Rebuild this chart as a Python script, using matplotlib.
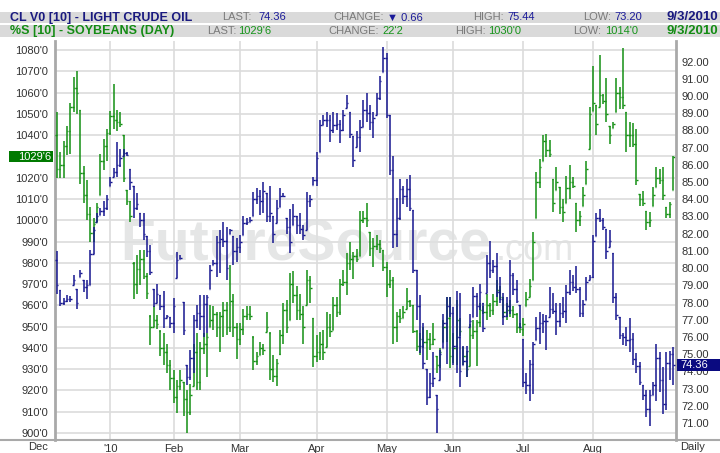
import numpy as np
import matplotlib
matplotlib.use("Agg")
import matplotlib.pyplot as plt
from matplotlib.patches import Rectangle
from matplotlib.transforms import blended_transform_factory

plt.rcParams['font.family'] = ['Liberation Sans', 'DejaVu Sans']

# ---------------------------------------------------------------- data
# Soybeans (%S, daily) high / low / open / close, cents per bushel
soy_high = [1051, 1032, 1037, 1044.5, 1055, 1067.5, 1070, 1052, 1025.5, 1019,
            1006, 1001, 1008, 1031, 1038, 1043, 1051.5, 1064, 1052, 1051,
            1040, 1014, 1009, 980.5, 983.5, 986, 986, 975, 955.5, 959.5,
            955.5, 948.5, 947, 942, 934.5, 929.5, 925, 929.5, 924, 920,
            923, 942, 947, 943, 947, 947, 960, 959.5, 957, 957,
            961.5, 961.5, 979, 965.5, 951.5, 951.5, 958.5, 959.5, 959.5, 945.5,
            938, 943, 942, 957, 947.5, 936.5, 935, 948.5, 961, 962.5,
            975, 976, 969, 965.5, 959.5, 976.5, 974, 954, 946, 947.5,
            948.5, 957, 956, 964, 964, 972.5, 976.5, 984.5, 990, 985,
            986.5, 1004.5, 1004.5, 1008, 994.5, 991.5, 993, 990.5, 986, 980.5,
            976.5, 973.5, 957, 958.5, 959.5, 968, 962.5, 960, 948.5, 947,
            950, 948.5, 947, 951.5, 936, 940, 953, 964, 964, 947,
            962.5, 954, 940.5, 938.5, 951, 953, 953, 961, 959.5, 965.5,
            961, 965.5, 972, 969, 964, 961, 962.5, 959.5, 956.5, 951.5,
            954, 966.5, 972.5, 994.5, 1022.5, 1029, 1040, 1040.5, 1037.5, 1019.5,
            1025, 1015.5, 1010, 1021, 1026, 1020.5, 1008, 1004.5, 1015.5, 1028,
            1053, 1072.5, 1054, 1077.5, 1059.5, 1067, 1044.5, 1046, 1067, 1062.5,
            1081, 1051, 1046, 1045.5, 1043, 1012.5, 1013.5, 1004.5, 1004, 1015.5,
            1025, 1024, 1025, 1006, 1008.5, 1030]
soy_low = [1020, 1020, 1020, 1030.5, 1031, 1051, 1050, 1017, 1008, 1000,
           990, 990, 999, 1012, 1023.5, 1028, 1040, 1043, 1042, 1044,
           1018, 1007, 999, 963, 965.5, 969.5, 972.5, 963, 941.5, 950,
           949, 936, 932, 928, 920, 914, 909.5, 920, 908, 900,
           908.5, 922, 920, 920, 937, 926.5, 950, 948.5, 945, 938,
           945, 946, 947.5, 945, 935, 941.5, 946, 953, 953, 929.5,
           932, 936.5, 936.5, 947.5, 925, 924, 922, 936.5, 942, 947,
           953, 961, 953, 953, 942, 960, 961, 931, 933.5, 934.5,
           934.5, 940.5, 945, 948.5, 954.5, 955.5, 969, 965, 976.5, 972.5,
           980.5, 983, 998.5, 997, 983, 978, 986, 984.5, 976, 964,
           968, 942, 943, 951.5, 954, 958.5, 959, 947, 938.5, 936.5,
           940, 934.5, 939, 941.5, 928, 930.5, 943, 943, 930.5, 933,
           932, 945.5, 932, 926.5, 931.5, 944, 931.5, 950, 956, 953,
           954.5, 955.5, 959.5, 962.5, 954, 953, 954.5, 954, 947, 947,
           945.5, 959.5, 964, 972, 1001, 1015, 1028, 1029.5, 1029.5, 1004,
           1014, 1003, 999, 1008, 1010, 1015, 994.5, 997.5, 1006.5, 1017,
           1033.5, 1051.5, 1040, 1053, 1054.5, 1046, 1036, 1043.5, 1051, 1052.5,
           1052.5, 1032, 1034.5, 1034.5, 1016.5, 1006.5, 1006.5, 995.5, 997, 1006.5,
           1015.5, 1017, 1009.5, 1001, 1001, 1014]
soy_open = [1040, 1024, 1026, 1035, 1042, 1053, 1062, 1052, 1022, 1012,
            1003, 994, 999, 1012, 1028, 1035, 1041, 1049, 1047, 1046,
            1040, 1014, 1009, 980, 970, 977, 982, 974, 955, 950,
            953, 948, 940, 938, 932, 926, 917, 922, 924, 916,
            910, 922, 938, 924, 940, 942, 950, 953, 956, 950,
            955, 958, 950, 962, 950, 944, 949, 955, 956, 945,
            934, 936.5, 940, 947.5, 947, 930, 927, 937, 946, 958,
            953, 970, 965, 958, 956, 960, 972, 954, 936, 938,
            942, 940.5, 950, 948.5, 960, 957, 970, 971, 980, 982,
            983, 983, 1000, 1001, 994.5, 987, 988, 989, 986, 978,
            970, 972, 950, 955, 954, 958.5, 962, 960, 948, 941,
            944, 943, 944, 942, 936, 932, 943, 950, 954, 936,
            940, 953, 940.5, 936, 931.5, 946, 948, 952, 958, 957,
            960, 958, 962, 967, 964, 957, 958, 958, 956, 950,
            949, 959.5, 964, 972, 1001, 1018, 1028, 1037, 1033, 1019.5,
            1014, 1015.5, 1006, 1008, 1015, 1018, 1008, 1000, 1006.5, 1017,
            1033.5, 1051.5, 1054, 1053, 1059, 1056, 1044.5, 1043.5, 1051, 1060,
            1058, 1051, 1040, 1040, 1036, 1012.5, 1010, 1004.5, 999, 1006.5,
            1015.5, 1020, 1019, 1006, 1003, 1014]
soy_close = [1024, 1026, 1035, 1042, 1053, 1062, 1060, 1022, 1012, 1003,
             994, 998, 1006, 1028, 1035, 1041, 1049, 1047, 1046, 1045,
             1020, 1009, 1002, 970, 977, 982, 974, 966, 950, 953,
             951, 940, 938, 932, 926, 917, 922, 925, 916, 910,
             918, 938, 924, 940, 942, 945, 953, 956, 950, 955,
             958, 950, 962, 950, 944, 949, 955, 956, 955, 934,
             936, 940, 939, 950, 930, 927, 933, 946, 958, 950,
             970, 965, 958, 956, 950, 972, 968, 936, 938, 942,
             938, 950, 948, 960, 957, 970, 971, 980, 982, 983,
             982, 1000, 1001, 1000, 987, 988, 989, 987, 978, 970,
             972, 950, 955, 954, 957, 962, 960, 948, 941, 944,
             943, 944, 942, 944, 932, 938, 950, 954, 936, 940,
             953, 948, 936, 930, 946, 948, 952, 958, 957, 960,
             958, 962, 967, 964, 957, 958, 958, 956, 950, 949,
             951, 963, 969, 990, 1018, 1025, 1037, 1033, 1031, 1008,
             1018, 1006, 1004, 1015, 1018, 1016, 1000, 1002, 1012, 1024,
             1050, 1055, 1045, 1059, 1056, 1050, 1040, 1045, 1060, 1058,
             1054, 1040, 1040, 1036, 1019, 1010, 1008, 999, 1000, 1012,
             1020, 1019, 1012, 1003, 1007.5, 1029.75]

# Light crude oil (CL V0) high / low / open / close, dollars per barrel
oil_high = [81.0, 78.7, 78.25, 78.45, 78.4, 79.6, 78.8, 79.9, 79.3, 79.3,
            81.05, 82.4, 83.2, 83.5, 83.9, 84.25, 85.3, 85.8, 87.35, 86.95,
            86.95, 86.75, 85.75, 84.75, 84.35, 83.2, 83.2, 81.85, 81.35, 78.8,
            79.1, 78.45, 78.65, 77.3, 77.15, 78.25, 80.95, 80.75, 78.05, 74.35,
            75.25, 77.25, 77.85, 78.45, 78.45, 78.45, 80.2, 80.45, 81.85, 82.2,
            82.7, 82.4, 82.3, 81.85, 81.75, 81.9, 83.0, 82.9, 82.95, 84.45,
            84.65, 84.55, 85.0, 84.35, 84.75, 83.0, 83.95, 84.65, 84.35, 82.9,
            83.45, 83.75, 83.0, 83.2, 82.5, 84.45, 84.25, 85.3, 86.75, 88.6,
            88.9, 89.1, 88.9, 89.1, 89.0, 88.6, 89.2, 90.05, 89.1, 87.65,
            87.95, 88.6, 89.75, 90.15, 89.5, 89.1, 90.15, 91.15, 92.85, 92.5,
            88.9, 86.5, 84.05, 85.2, 84.75, 85.2, 85.4, 83.4, 79.9, 78.45,
            76.8, 74.15, 73.9, 75.15, 72.6, 75.25, 77.35, 78.35, 78.35, 77.75,
            78.65, 78.55, 75.45, 75.45, 77.35, 78.9, 78.55, 79.1, 77.95, 80.75,
            81.55, 80.45, 80.85, 79.5, 78.55, 78.35, 80.45, 79.7, 79.3, 77.85,
            75.9, 73.9, 74.65, 75.7, 77.15, 77.45, 77.35, 77.25, 78.9, 78.55,
            77.95, 77.95, 78.35, 79.0, 79.9, 79.6, 80.1, 78.9, 78.15, 79.5,
            79.6, 81.9, 83.2, 83.45, 82.9, 82.3, 82.2, 80.85, 78.55, 77.15,
            76.2, 76.6, 77.1, 76.2, 75.05, 74.55, 73.2, 72.9, 72.9, 73.4,
            75.6, 75.15, 74.25, 75.15, 75.2, 75.44]
oil_low = [78.5, 77.8, 77.85, 78.05, 78.05, 79.0, 77.65, 79.5, 78.6, 78.2,
           79.0, 80.8, 82.7, 83.1, 83.0, 83.4, 84.8, 85.3, 85.3, 85.9,
           86.5, 86.5, 84.55, 82.9, 83.4, 82.4, 81.65, 80.65, 79.6, 77.75,
           77.95, 77.55, 76.5, 77.1, 76.5, 76.2, 79.4, 80.55, 76.1, 73.2,
           73.5, 73.9, 76.5, 76.4, 76.0, 76.2, 78.8, 80.2, 79.5, 79.7,
           81.25, 79.3, 82.0, 80.2, 80.35, 80.85, 81.9, 82.5, 82.7, 83.0,
           83.75, 83.1, 83.2, 82.7, 82.7, 81.45, 82.6, 83.55, 84.15, 82.0,
           80.85, 82.5, 82.0, 82.0, 81.65, 82.2, 83.55, 84.85, 84.75, 86.75,
           88.3, 88.2, 87.35, 87.85, 88.05, 87.25, 87.95, 89.3, 87.55, 85.9,
           87.05, 86.75, 88.2, 88.5, 88.05, 87.55, 88.9, 89.75, 91.4, 88.7,
           85.4, 81.15, 81.25, 82.8, 83.75, 83.55, 83.3, 79.7, 77.0, 75.05,
           74.15, 72.05, 72.45, 73.1, 70.4, 73.5, 75.35, 74.45, 77.15, 74.35,
           73.9, 73.1, 74.35, 73.7, 76.6, 77.15, 77.15, 77.55, 76.3, 78.55,
           79.4, 79.7, 78.35, 77.95, 76.7, 77.15, 77.35, 78.45, 77.95, 76.5,
           73.1, 72.7, 72.25, 72.7, 75.8, 75.6, 76.2, 75.25, 77.15, 77.35,
           76.1, 76.6, 77.1, 76.8, 78.45, 78.65, 78.55, 77.15, 77.15, 78.15,
           79.3, 79.4, 81.85, 82.7, 82.2, 80.55, 81.25, 77.95, 77.0, 75.9,
           75.55, 75.45, 75.15, 74.35, 73.9, 73.2, 72.35, 71.35, 70.8, 72.6,
           72.25, 72.8, 71.55, 71.75, 73.5, 73.2]
oil_open = [80.5, 78.7, 78.0, 78.1, 78.2, 79.0, 78.8, 79.5, 79.3, 78.9,
            79.0, 80.8, 82.7, 83.1, 83.3, 83.5, 84.8, 85.3, 85.6, 86.0,
            86.5, 86.7, 85.75, 84.75, 83.5, 83.2, 82.8, 81.85, 81.0, 78.8,
            78.0, 78.45, 77.8, 77.1, 77.15, 76.8, 79.4, 80.55, 78.05, 74.35,
            73.7, 74.8, 77.0, 77.4, 77.2, 77.9, 78.8, 80.2, 80.3, 81.5,
            81.7, 81.6, 82.0, 81.85, 81.0, 81.2, 81.9, 82.6, 82.7, 83.0,
            84.0, 84.2, 83.9, 84.35, 83.0, 83.0, 82.6, 83.55, 84.2, 82.9,
            82.4, 82.5, 83.0, 82.5, 82.3, 82.2, 83.9, 84.85, 85.1, 86.75,
            88.3, 88.6, 88.6, 88.0, 88.3, 88.4, 88.0, 89.3, 89.1, 87.65,
            87.05, 87.6, 88.2, 89.2, 89.0, 88.5, 88.9, 89.9, 91.4, 92.2,
            88.9, 85.7, 82.0, 82.9, 84.6, 84.2, 84.6, 83.4, 79.9, 77.8,
            75.5, 74.15, 72.5, 73.3, 72.6, 73.5, 75.35, 76.8, 77.8, 77.4,
            75.5, 76.0, 74.35, 74.6, 76.6, 77.15, 78.4, 77.8, 77.95, 78.55,
            80.3, 79.9, 80.1, 78.6, 78.2, 77.2, 77.8, 79.6, 78.8, 77.85,
            75.9, 73.4, 73.2, 74.4, 75.8, 76.5, 76.8, 76.9, 77.15, 77.6,
            77.5, 76.9, 77.4, 77.5, 78.6, 79.2, 78.9, 78.8, 77.4, 78.15,
            79.3, 79.5, 81.85, 82.9, 82.8, 82.3, 81.25, 80.85, 78.3, 77.15,
            76.1, 76.0, 75.8, 75.9, 74.7, 74.3, 73.2, 72.6, 71.8, 72.6,
            73.2, 74.8, 73.5, 72.1, 74.5, 75.02]
oil_close = [79.0, 78.0, 78.1, 78.2, 78.2, 79.3, 78.0, 79.7, 78.9, 79.0,
             80.8, 82.2, 83.0, 83.3, 83.5, 84.0, 85.0, 85.6, 86.0, 86.4,
             86.7, 86.6, 85.0, 83.5, 83.7, 82.8, 82.0, 81.0, 79.8, 78.0,
             78.5, 77.8, 77.1, 77.2, 76.8, 77.8, 80.5, 80.6, 76.4, 73.7,
             74.8, 77.0, 77.4, 77.2, 77.9, 78.3, 79.9, 80.3, 81.5, 81.7,
             81.6, 80.0, 82.2, 81.0, 81.2, 81.5, 82.6, 82.7, 82.8, 84.0,
             84.2, 83.9, 84.5, 83.0, 83.2, 82.0, 83.5, 84.2, 84.2, 82.4,
             81.5, 83.0, 82.5, 82.3, 81.9, 83.9, 84.0, 85.1, 86.4, 88.3,
             88.6, 88.6, 88.0, 88.3, 88.4, 88.0, 88.9, 89.6, 87.8, 86.3,
             87.6, 88.2, 89.2, 89.0, 88.5, 88.7, 89.9, 90.9, 92.2, 88.9,
             85.7, 82.0, 82.9, 84.6, 84.2, 84.6, 83.5, 79.9, 77.8, 75.5,
             74.5, 72.5, 73.3, 73.6, 71.8, 75.0, 76.8, 77.8, 77.4, 75.5,
             76.0, 74.0, 74.6, 75.2, 76.9, 78.4, 77.8, 78.6, 76.5, 80.3,
             79.9, 80.1, 78.6, 78.2, 77.2, 77.8, 79.6, 78.8, 78.1, 76.6,
             73.4, 73.2, 74.4, 75.6, 76.5, 76.8, 76.9, 76.9, 77.6, 77.5,
             76.9, 77.4, 77.5, 78.6, 79.2, 78.9, 78.8, 77.4, 77.9, 79.2,
             79.5, 81.6, 82.9, 82.8, 82.4, 81.0, 81.6, 78.3, 77.3, 76.1,
             76.0, 75.8, 75.9, 74.7, 74.3, 73.4, 72.6, 71.8, 72.6, 73.2,
             74.8, 73.5, 72.1, 74.5, 75.02, 74.36]

# Month boundaries, in trading-day positions
month_pos = [16, 35, 55, 78, 99, 119, 140, 161]
month_labels = ["'10", "Feb", "Mar", "Apr", "May", "Jun", "Jul", "Aug"]
first_month_pos = -5.7
first_month_label = "Dec"

soy_ticks = list(range(900, 1081, 10))
oil_ticks = list(range(71, 93))

# ---------------------------------------------------------------- styling
W, H = 720, 453
GREEN = '#138f13'
NAVY = '#16168f'
GRID = '#dcdcdc'
AXIS = '#a9a9a9'
LABEL = '#333333'


def fx(x):
    return x / W


def fy(y):
    return 1 - y / H


def soy_label(v):
    # the last-value flag covers the label at 1030
    return "" if v == 1030 else f"{v}'0"


fig = plt.figure(figsize=(W / 100, H / 100), dpi=100)
fig.patch.set_facecolor('white')

# header strips
for top, bottom in [(11.7, 23.3), (25.0, 36.7)]:
    fig.add_artist(Rectangle((0, fy(bottom)), 1, (bottom - top) / H,
                             transform=fig.transFigure, facecolor='#dadada',
                             edgecolor='none'))

ax = fig.add_axes([fx(55), fy(440), fx(676) - fx(55), fy(41) - fy(440)])
ax2 = ax.twinx()

x = np.arange(len(soy_high))
ax.set_xlim(-0.6, 185.9)
ax.set_ylim(896.71, 1084.23)
ax2.set_ylim(70.01, 93.20)

# gridlines
ax.set_yticks(soy_ticks)
ax.set_yticklabels([soy_label(v) for v in soy_ticks])
ax.set_xticks(month_pos)
ax.set_xticklabels(month_labels)
ax.grid(True, color=GRID, lw=1.2, zorder=0)
ax.set_axisbelow(True)
ax.tick_params(axis='y', length=0, pad=5, labelsize=8, labelcolor=LABEL)
ax.tick_params(axis='x', length=0, pad=3, labelsize=8, labelcolor=LABEL)

ax2.set_yticks(oil_ticks)
ax2.set_yticklabels([f"{v:.2f}" for v in oil_ticks])
ax2.tick_params(axis='y', length=0, pad=4, labelsize=8, labelcolor=LABEL)

for a in (ax, ax2):
    for s in ('top', 'bottom'):
        a.spines[s].set_visible(False)
ax.spines['left'].set_color(AXIS)
ax.spines['left'].set_linewidth(2)
ax.spines['right'].set_visible(False)
ax2.spines['left'].set_visible(False)
ax2.spines['right'].set_color(AXIS)
ax2.spines['right'].set_linewidth(2)

# bottom rule across the full width
fig.add_artist(plt.Line2D([0, 1], [fy(440), fy(440)], transform=fig.transFigure,
                          color=AXIS, lw=1.5))

# watermark
ax.text(0.105, 0.45, "FutureSource", transform=ax.transAxes, fontsize=41,
        fontweight='bold', color='#dfe0e0', alpha=0.8, ha='left',
        va='baseline', zorder=1)
ax.text(0.71, 0.45, ".com", transform=ax.transAxes, fontsize=26,
        color='#dfe0e0', alpha=0.8, ha='left', va='baseline', zorder=1)

# OHLC bars
tick = 0.45
ax.vlines(x, soy_low, soy_high, color=GREEN, lw=1.1, zorder=3)
ax.hlines(soy_open, x - tick, x, color=GREEN, lw=1.0, zorder=3)
ax.hlines(soy_close, x, x + tick, color=GREEN, lw=1.0, zorder=3)

ax2.vlines(x, oil_low, oil_high, color=NAVY, lw=1.1, zorder=3)
ax2.hlines(oil_open, x - tick, x, color=NAVY, lw=1.0, zorder=3)
ax2.hlines(oil_close, x, x + tick, color=NAVY, lw=1.0, zorder=3)

# first month label sits left of the plot area
trans = blended_transform_factory(ax.transData, fig.transFigure)
ax.text(first_month_pos, fy(447), first_month_label, transform=trans,
        ha='center', va='center', fontsize=8, color=LABEL, clip_on=False)
fig.text(fx(693), fy(447), "Daily", ha='center', va='center', fontsize=8,
         color=LABEL)

# last-value flags
soy_last = soy_close[-1]
oil_last = oil_close[-1]
ys = ax.transData.transform((0, soy_last))[1]
fig.add_artist(Rectangle((fx(9), ys / H - 5.5 / H), fx(53) - fx(9), 11 / H,
                         transform=fig.transFigure, facecolor='#007a00',
                         edgecolor='none', zorder=5))
fig.text(fx(51), ys / H, "1029'6", ha='right', va='center', fontsize=8,
         color='white', zorder=6)
yo = ax2.transData.transform((0, oil_last))[1]
fig.add_artist(Rectangle((fx(677), yo / H - 6 / H), fx(720) - fx(677), 12 / H,
                         transform=fig.transFigure, facecolor='#0a0a80',
                         edgecolor='none', zorder=5))
fig.text(fx(680), yo / H, f"{oil_last:.2f}", ha='left', va='center',
         fontsize=8, color='white', zorder=6)

# header text
GRAYTXT = '#7a7a7a'
r1, r2 = fy(17.5), fy(31.0)
fig.text(fx(10), r1, "CL V0 [10] - LIGHT CRUDE OIL", fontsize=9,
         fontweight='bold', color='#1a1a80', va='center')
fig.text(fx(10), r2, "%S [10] - SOYBEANS (DAY)", fontsize=9,
         fontweight='bold', color='#148c14', va='center')

row1 = [(222, "LAST:", 258, "74.36"), (333, "CHANGE:", 387, "\u25bc 0.66"),
        (473, "HIGH:", 507, "75.44"), (583, "LOW:", 614, "73.20")]
row2 = [(207, "LAST:", 238, "1029'6"), (328, "CHANGE:", 382, "22'2"),
        (455, "HIGH:", 488, "1030'0"), (573, "LOW:", 605, "1014'0")]
for lx, lab, vx, val in row1:
    fig.text(fx(lx), r1, lab, fontsize=8, color=GRAYTXT, va='center')
    fig.text(fx(vx), r1, val, fontsize=8, color='#1a1a99', va='center')
for lx, lab, vx, val in row2:
    fig.text(fx(lx), r2, lab, fontsize=8, color=GRAYTXT, va='center')
    fig.text(fx(vx), r2, val, fontsize=8, color='#16941a', va='center')
fig.text(fx(718), r1, "9/3/2010", fontsize=9.5, fontweight='bold',
         color='#1a1a80', va='center', ha='right')
fig.text(fx(718), r2, "9/3/2010", fontsize=9.5, fontweight='bold',
         color='#148c14', va='center', ha='right')

fig.savefig("out.png", dpi=100, facecolor='white')
